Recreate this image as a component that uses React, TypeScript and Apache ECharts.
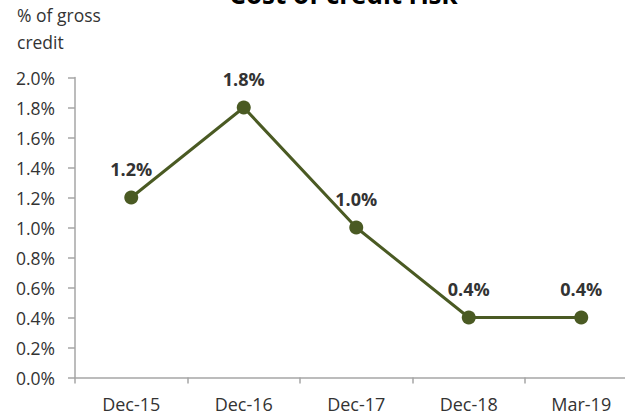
import React, { useEffect, useRef } from "react";
import * as echarts from "echarts";

const categories = ["Dec-15", "Dec-16", "Dec-17", "Dec-18", "Mar-19"];
const costOfRisk = [1.2, 1.8, 1.0, 0.4, 0.4];
const yTicks = { min: 0, max: 2.0, interval: 0.2 };
const titleText = "Cost of credit risk";
const yUnitText = "% of gross\ncredit";

const FONT = "'Open Sans', 'Noto Sans', sans-serif";

export default function App() {
  const ref = useRef<HTMLDivElement>(null);
  useEffect(() => {
    if (!ref.current) return;
    const chart = echarts.init(ref.current, undefined, { renderer: "svg" });
    chart.setOption({
      animation: false,
      backgroundColor: "#ffffff",
      graphic: [
        {
          type: "text",
          x: 343.5,
          y: -6,
          style: {
            text: titleText,
            font: `bold 26px ${FONT}`,
            fill: "#000000",
            textAlign: "center",
            textVerticalAlign: "middle",
          },
        },
        {
          type: "text",
          x: 17,
          y: 1.5,
          style: {
            text: yUnitText,
            font: `17.5px ${FONT}`,
            lineHeight: 27,
            fill: "#333333",
            textAlign: "left",
            textVerticalAlign: "top",
          },
        },
      ],
      grid: { left: 75, top: 77.5, width: 562.5, height: 300, containLabel: false },
      xAxis: {
        type: "category",
        data: categories,
        boundaryGap: true,
        axisLine: { lineStyle: { color: "#a6a6a6", width: 1.5 } },
        axisTick: { show: true, length: 6, alignWithLabel: false, lineStyle: { color: "#a6a6a6", width: 1.5 } },
        axisLabel: { color: "#333333", fontSize: 18, fontFamily: FONT, margin: 17 },
        splitLine: { show: false },
      },
      yAxis: {
        type: "value",
        min: yTicks.min,
        max: yTicks.max,
        interval: yTicks.interval,
        axisLine: { show: true, lineStyle: { color: "#a6a6a6", width: 1.5 } },
        axisTick: { show: true, length: 7, lineStyle: { color: "#a6a6a6", width: 1.5 } },
        axisLabel: {
          color: "#333333",
          fontSize: 17.5,
          fontFamily: FONT,
          margin: 20,
          formatter: (v: number) => v.toFixed(1) + "%",
        },
        splitLine: { show: false },
      },
      series: [
        {
          type: "line",
          data: costOfRisk,
          symbol: "circle",
          symbolSize: 14,
          lineStyle: { color: "#4a5a23", width: 3 },
          itemStyle: { color: "#4a5a23" },
          label: {
            show: true,
            position: "top",
            distance: 13,
            color: "#333333",
            fontSize: 18,
            fontWeight: "bold",
            fontFamily: FONT,
            formatter: (p: any) => Number(p.value).toFixed(1) + "%",
          },
        },
      ],
    });
    return () => chart.dispose();
  }, []);
  return (
    <div style={{ width: 625, height: 414, position: "absolute", left: 0, top: 0, overflow: "hidden" }}>
      <div ref={ref} style={{ width: 660, height: 414 }} />
    </div>
  );
}
